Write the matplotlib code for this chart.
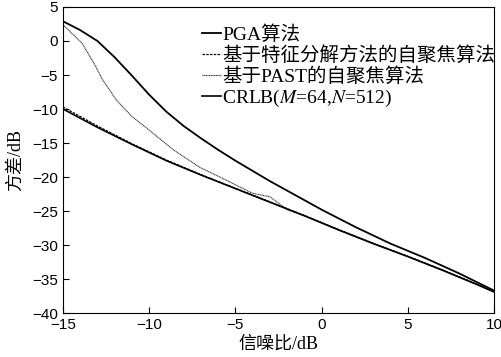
import matplotlib
matplotlib.use("Agg")
import matplotlib.pyplot as plt

plt.rcParams['font.family'] = ['Liberation Serif', 'Noto Sans CJK SC']
plt.rcParams['mathtext.fontset'] = 'stix'

# PGA
pga_x = [-15, -14, -13, -12, -11, -10, -9, -8, -7, -6, -5, -4, -3, -2, -1, 0,
         2, 4, 6, 8, 10]
pga = [2.9, 1.6, 0.0, -2.4, -5.1, -7.9, -10.4, -12.5, -14.3, -16.0, -17.6, -19.1,
       -20.6, -22.0, -23.4, -24.8, -27.4, -29.8, -31.9, -34.2, -36.7]

# CRLB
crlb_x = [-15, -13, -11, -9, -7, -5, -3, -1, 1, 3, 5, 7, 9, 10]
crlb = [-10.0, -12.7, -15.2, -17.6, -19.7, -21.7, -23.7, -25.7, -27.8, -29.8, -31.7,
        -33.7, -35.8, -36.9]

# eigen-decomposition autofocus
eig_x = [-15, -13, -11, -9, -7, -5, -3, -1, 1, 3, 5, 7, 9, 10]
eig = [-9.7, -12.5, -15.1, -17.5, -19.65, -21.65, -23.65, -25.65, -27.75, -29.75,
       -31.65, -33.65, -35.75, -36.85]

# PAST autofocus
past_x = [-15, -13.9, -13.2, -12.7, -11.9, -11.0, -10.0, -8.6, -7.05, -5.9, -4.0,
          -3.0, -2.0, -1, 1, 3, 5, 7, 9, 10]
past = [2.4, -0.3, -3.3, -5.7, -8.7, -11.1, -13.1, -16.0, -18.6, -20.0, -22.4,
        -22.9, -24.8, -25.65, -27.75, -29.75, -31.65, -33.65, -35.75, -36.85]

fig = plt.figure(figsize=(5.01, 3.57), dpi=100)
ax = fig.add_axes([0.1257, 0.1232, 0.8603, 0.8572])

ax.plot(pga_x, pga, color='black', lw=1.3, label='PGA算法')
ax.plot(eig_x, eig, color='black', lw=0.9, ls=(0, (2, 1)), label='基于特征分解方法的自聚焦算法')
ax.plot(past_x, past, color='#333333', lw=0.8, ls=(0, (1, 0.5)), label='基于PAST的自聚焦算法')
ax.plot(crlb_x, crlb, color='black', lw=1.2, label='CRLB($M$=64,$N$=512)')

ax.set_xlim(-15, 10)
ax.set_ylim(-40, 5)
ax.set_xticks([-15, -10, -5, 0, 5, 10])
ax.set_yticks(range(-40, 6, 5))
ax.tick_params(direction='in', length=4, labelsize=11)
for lab in ax.get_xticklabels() + ax.get_yticklabels():
    lab.set_family('Liberation Sans')

ax.set_xlabel('信噪比/dB', fontsize=13, labelpad=3)
ax.set_ylabel('方差/dB', fontsize=13, labelpad=6)

ax.legend(loc='upper left', bbox_to_anchor=(0.403, 0.93), bbox_transform=fig.transFigure,
          frameon=False, fontsize=14, handlelength=1.0, handletextpad=0.05,
          labelspacing=0.12, borderpad=0, borderaxespad=0)

fig.savefig('out.png', dpi=100)
